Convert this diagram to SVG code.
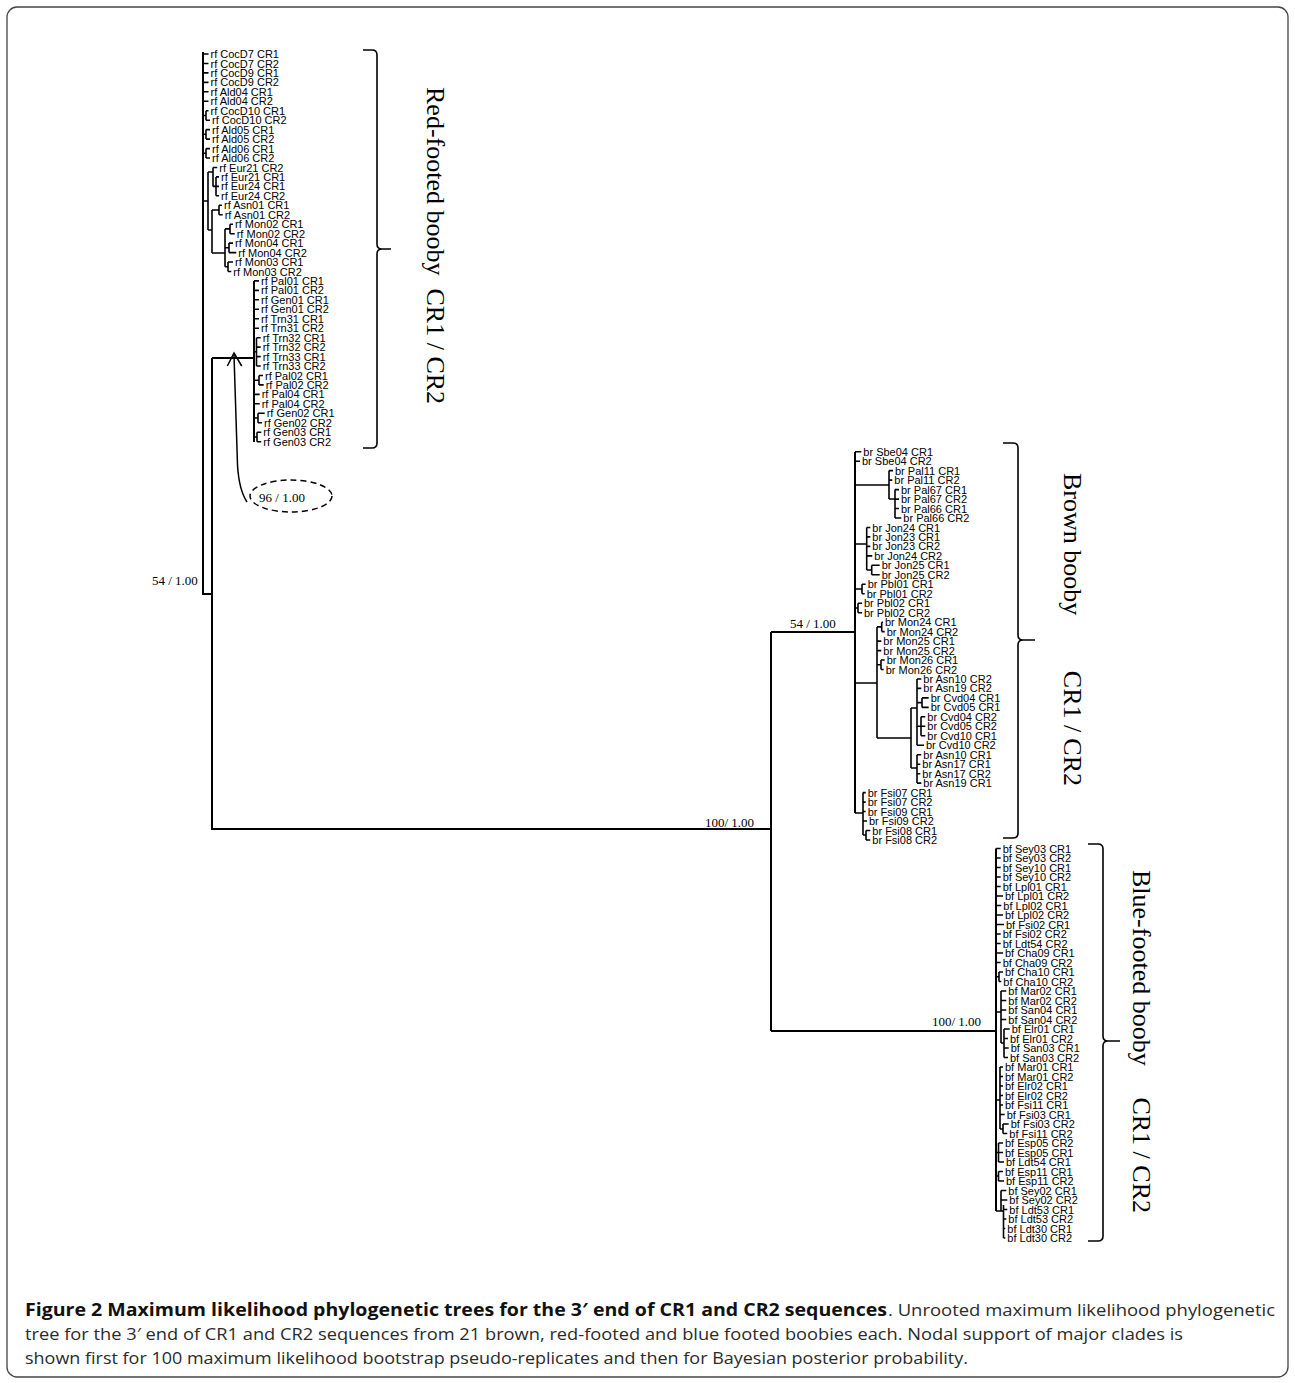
<svg xmlns="http://www.w3.org/2000/svg" width="1295" height="1383" viewBox="0 0 1295 1383">
<style>
.lf text{font-family:"Liberation Sans",Arial,sans-serif;font-size:11px;fill:#000}
.br{stroke:#000;stroke-width:2;fill:none}
.tk{stroke:#000;stroke-width:1.6;fill:none}
.brace{stroke:#000;stroke-width:1.6;fill:none}
.sup{font-family:"Liberation Serif","Times New Roman",serif;font-size:13px;fill:#000}
.clade{font-family:"Liberation Serif","Times New Roman",serif;font-size:26px;fill:#000}
.cap{font-family:"Open Sans","Noto Sans",sans-serif;font-size:17px;fill:#2a2a2a}
.capb{font-family:"Open Sans","Noto Sans",sans-serif;font-size:17px;font-weight:bold;fill:#111}
</style>
<rect width="1295" height="1383" fill="#fff"/>
<rect x="7" y="7" width="1281" height="1370" rx="10" fill="none" stroke="#444" stroke-width="1.3"/>

<g id="connectors">
<path class="br" d="M203,52 V594 H212 M212,358 V829 H771 M212,358 H254 M254,281 V442 M771,632 V1031 M771,632 H855 M855,452 V813 M771,1031 H996 M996,848.5 V1211"/>
<path class="tk" d="M203,54 H208.5 M203,63.5 H208.5 M203,72.9 H208.5 M203,82.4 H208.5 M203,91.8 H208.5 M203,101.3 H208.5
M203,115.5 H206 M206,110.7 V120.2 M206,110.7 H208.5 M206,120.2 H210
M203,134.3 H206 M206,129.6 V139.1 M206,129.6 H210 M206,139.1 H210
M203,153.3 H206 M206,148.6 V158 M206,148.6 H210 M206,158 H210
M203,201 H208 M208,172 V230
M208,172 H213 M213,167.5 V186.4 M213,167.5 H217.3 M213,186.4 H216 M216,176.9 V195.8 M216,176.9 H219 M216,186.4 H219 M216,195.8 H219
M208,230 H212 M212,210 V253
M212,210 H219 M219,205.3 V214.8 M219,205.3 H222 M219,214.8 H222.7
M212,253 H225 M225,228.9 V266.8
M225,228.9 H230 M230,224.2 V233.7 M230,224.2 H233 M230,233.7 H234.7
M225,247.8 H229 M229,243.1 V252.6 M229,243.1 H233 M229,252.6 H236.3
M225,266.8 H228 M228,262 V271.5 M228,262 H233 M228,271.5 H231.3
M254,280.9 H259 M254,290.4 H259 M254,299.8 H259 M254,309.3 H259 M254,318.7 H259 M254,328.2 H259
M254,351.8 H256.5 M256.5,337.7 V366 M256.5,337.7 H260.7 M256.5,347.1 H260.7 M256.5,356.6 H260.7 M256.5,366 H260.7
M254,380.2 H259 M259,375.5 V384.9 M259,375.5 H263 M259,384.9 H263.7
M254,394.4 H259.7 M254,403.8 H259.7
M254,418 H258 M258,413.3 V422.8 M258,413.3 H264.7 M258,422.8 H262
M254,437 H257 M257,432.2 V441.7 M257,432.2 H261.3 M257,441.7 H261.3"/>
<path class="tk" d="M855,451.7 H861.3 M855,461.2 H860
M855,485 H889 M889,470.6 V499 M889,470.6 H893 M889,480.1 H892.3 M889,499 H895 M895,489.6 V518 M895,489.6 H899 M895,499.1 H899 M895,508.5 H899 M895,518 H901.3
M855,544 H866.7 M866.7,527.5 V570 M866.7,527.5 H870.3 M866.7,536.9 H870.3 M866.7,546.4 H870.3 M866.7,555.9 H872.3 M866.7,570 H871.7 M871.7,565.3 V574.8 M871.7,565.3 H879.7 M871.7,574.8 H879.7
M855,589 H862 M862,584.3 V593.7 M862,584.3 H865.7 M862,593.7 H864.7
M855,608 H858 M858,603.2 V612.7 M858,603.2 H862 M858,612.7 H862
M855,683 H877 M877,626.9 V738
M877,626.9 H881.7 M881.7,622.2 V631.6 M881.7,622.2 H883 M881.7,631.6 H884.7
M877,641.1 H881.3 M877,650.6 H881.3
M877,664.8 H881 M881,660 V669.5 M881,660 H884.7 M881,669.5 H883.7
M877,738 H911 M911,708 V768
M911,708 H917 M917,679 V745.3 M917,679 H921.3 M917,688.4 H921.3
M917,702.6 H922 M922,697.9 V707.4 M922,697.9 H928.7 M922,707.4 H928.7
M917,726.3 H921 M921,716.8 V735.8 M921,716.8 H925.3 M921,726.3 H925.3 M921,735.8 H925.3
M917,745.3 H924
M911,768 H917 M917,754.7 V783.1 M917,754.7 H921.3 M917,764.2 H920.3 M917,773.7 H920.3 M917,783.1 H921.3
M855,813 H863 M863,792.6 V835 M863,792.6 H865.7 M863,802.1 H865.7 M863,811.5 H865.7 M863,821 H867 M863,835 H866 M866,830.5 V840 M866,830.5 H870.3 M866,840 H870.3"/>
<path class="tk" d="M996,848.5 H1000.7 M996,858 H1000.7 M996,867.5 H1000.7 M996,877 H1000.7 M996,886.5 H1000.7 M996,896 H1003 M996,905.5 H1001.3 M996,915 H1003 M996,924.5 H1004 M996,934 H1000.7 M996,943.5 H1000.7 M996,953 H1003 M996,962.5 H1000.7
M996,976.7 H999 M999,972 V981.5 M999,972 H1003 M999,981.5 H1001.3
M996,1012 H1001 M1001,991 V1043 M1001,991 H1006.3 M1001,1000.5 H1006.3 M1001,1010 H1006.3 M1001,1019.5 H1006.3 M1001,1043 H1004 M1004,1029 V1057.5 M1004,1029 H1009.7 M1004,1038.5 H1008 M1004,1048 H1008.7 M1004,1057.5 H1008
M996,1100 H1000 M1000,1067 V1129 M1000,1067 H1003 M1000,1076.5 H1003 M1000,1086 H1003 M1000,1095.5 H1003 M1000,1105 H1003 M1000,1114.5 H1004.7 M1000,1129 H1003 M1003,1124 V1133.5 M1003,1124 H1008.7 M1003,1133.5 H1007.3
M996,1152.5 H998.5 M998.5,1143 V1162 M998.5,1143 H1003 M998.5,1152.5 H1003 M998.5,1162 H1004
M996,1176 H998.5 M998.5,1171.5 V1181 M998.5,1171.5 H1003 M998.5,1181 H1004
M996,1211 H1003.5 M1001,1190.5 V1211 M1001,1190.5 H1006.3 M1001,1200 H1007.3 M1003.5,1205 V1238 M1003.5,1209.5 H1007.3 M1003.5,1219 H1006.3 M1003.5,1228.5 H1005.3 M1003.5,1238 H1005.3"/>
</g>

<g id="support-labels">
<text class="sup" x="152" y="585">54 / 1.00</text>
<text class="sup" x="790" y="627.5">54 / 1.00</text>
<text class="sup" x="705" y="826.5">100/ 1.00</text>
<text class="sup" x="932" y="1025.5">100/ 1.00</text>
</g>

<g id="annotation">
<ellipse cx="291" cy="496" rx="41" ry="16" fill="none" stroke="#000" stroke-width="1.5" stroke-dasharray="6 4"/>
<text class="sup" x="282" y="501.5" text-anchor="middle">96 / 1.00</text>
<path d="M247,502 Q239,490 237.5,465 L234,355" fill="none" stroke="#000" stroke-width="1.5"/>
<path d="M227.3,366 L234,353 L241.7,366" fill="none" stroke="#000" stroke-width="1.5"/>
</g>

<g id="braces">
<path class="brace" d="M363,50 H372 Q377,50 377,55 V244 Q377,249 382,249 H391 M382,249 Q377,249 377,254 V443 Q377,448 372,448 H363"/>
<path class="brace" d="M1003,443 H1013 Q1018,443 1018,448 V635 Q1018,640 1023,640 H1035 M1023,640 Q1018,640 1018,645 V833 Q1018,838 1013,838 H1003"/>
<path class="brace" d="M1088,844 H1098 Q1103,844 1103,849 V1036 Q1103,1041 1108,1041 H1120 M1108,1041 Q1103,1041 1103,1046 V1236 Q1103,1241 1098,1241 H1088"/>
</g>

<g id="clade-red-footed">
<text class="clade" transform="translate(427,87) rotate(90)"><tspan x="0">Red-footed booby</tspan><tspan x="201.5">CR1</tspan><tspan x="255.7">/</tspan><tspan x="269.4">CR2</tspan></text>
</g>
<g id="clade-brown">
<text class="clade" transform="translate(1064,473) rotate(90)"><tspan x="0">Brown booby</tspan><tspan x="197.8">CR1</tspan><tspan x="252">/</tspan><tspan x="265.3">CR2</tspan></text>
</g>
<g id="clade-blue-footed">
<text class="clade" transform="translate(1133,870) rotate(90)"><tspan x="0">Blue-footed booby</tspan><tspan x="227.4">CR1</tspan><tspan x="281.6">/</tspan><tspan x="295.3">CR2</tspan></text>
</g>

<g id="leaves-rf" class="lf">
<g id="rf-CocD7-CR1"><text x="210.5" y="58">rf CocD7 CR1</text></g>
<g id="rf-CocD7-CR2"><text x="210.5" y="67.5">rf CocD7 CR2</text></g>
<g id="rf-CocD9-CR1"><text x="210.5" y="76.9">rf CocD9 CR1</text></g>
<g id="rf-CocD9-CR2"><text x="210.5" y="86.4">rf CocD9 CR2</text></g>
<g id="rf-Ald04-CR1"><text x="210.5" y="95.8">rf Ald04 CR1</text></g>
<g id="rf-Ald04-CR2"><text x="210.5" y="105.3">rf Ald04 CR2</text></g>
<g id="rf-CocD10-CR1"><text x="210.5" y="114.7">rf CocD10 CR1</text></g>
<g id="rf-CocD10-CR2"><text x="212" y="124.2">rf CocD10 CR2</text></g>
<g id="rf-Ald05-CR1"><text x="212" y="133.6">rf Ald05 CR1</text></g>
<g id="rf-Ald05-CR2"><text x="212" y="143.1">rf Ald05 CR2</text></g>
<g id="rf-Ald06-CR1"><text x="212" y="152.6">rf Ald06 CR1</text></g>
<g id="rf-Ald06-CR2"><text x="212" y="162">rf Ald06 CR2</text></g>
<g id="rf-Eur21-CR2"><text x="219.3" y="171.5">rf Eur21 CR2</text></g>
<g id="rf-Eur21-CR1"><text x="221" y="180.9">rf Eur21 CR1</text></g>
<g id="rf-Eur24-CR1"><text x="221" y="190.4">rf Eur24 CR1</text></g>
<g id="rf-Eur24-CR2"><text x="221" y="199.8">rf Eur24 CR2</text></g>
<g id="rf-Asn01-CR1"><text x="224" y="209.3">rf Asn01 CR1</text></g>
<g id="rf-Asn01-CR2"><text x="224.7" y="218.8">rf Asn01 CR2</text></g>
<g id="rf-Mon02-CR1"><text x="235" y="228.2">rf Mon02 CR1</text></g>
<g id="rf-Mon02-CR2"><text x="236.7" y="237.7">rf Mon02 CR2</text></g>
<g id="rf-Mon04-CR1"><text x="235" y="247.1">rf Mon04 CR1</text></g>
<g id="rf-Mon04-CR2"><text x="238.3" y="256.6">rf Mon04 CR2</text></g>
<g id="rf-Mon03-CR1"><text x="235" y="266">rf Mon03 CR1</text></g>
<g id="rf-Mon03-CR2"><text x="233.3" y="275.5">rf Mon03 CR2</text></g>
<g id="rf-Pal01-CR1"><text x="261" y="284.9">rf Pal01 CR1</text></g>
<g id="rf-Pal01-CR2"><text x="261" y="294.4">rf Pal01 CR2</text></g>
<g id="rf-Gen01-CR1"><text x="261" y="303.8">rf Gen01 CR1</text></g>
<g id="rf-Gen01-CR2"><text x="261" y="313.3">rf Gen01 CR2</text></g>
<g id="rf-Trn31-CR1"><text x="261" y="322.7">rf Trn31 CR1</text></g>
<g id="rf-Trn31-CR2"><text x="261" y="332.2">rf Trn31 CR2</text></g>
<g id="rf-Trn32-CR1"><text x="262.7" y="341.7">rf Trn32 CR1</text></g>
<g id="rf-Trn32-CR2"><text x="262.7" y="351.1">rf Trn32 CR2</text></g>
<g id="rf-Trn33-CR1"><text x="262.7" y="360.6">rf Trn33 CR1</text></g>
<g id="rf-Trn33-CR2"><text x="262.7" y="370">rf Trn33 CR2</text></g>
<g id="rf-Pal02-CR1"><text x="265" y="379.5">rf Pal02 CR1</text></g>
<g id="rf-Pal02-CR2"><text x="265.7" y="388.9">rf Pal02 CR2</text></g>
<g id="rf-Pal04-CR1"><text x="261.7" y="398.4">rf Pal04 CR1</text></g>
<g id="rf-Pal04-CR2"><text x="261.7" y="407.8">rf Pal04 CR2</text></g>
<g id="rf-Gen02-CR1"><text x="266.7" y="417.3">rf Gen02 CR1</text></g>
<g id="rf-Gen02-CR2"><text x="264" y="426.8">rf Gen02 CR2</text></g>
<g id="rf-Gen03-CR1"><text x="263.3" y="436.2">rf Gen03 CR1</text></g>
<g id="rf-Gen03-CR2"><text x="263.3" y="445.7">rf Gen03 CR2</text></g>
</g>

<g id="leaves-br" class="lf">
<g id="br-Sbe04-CR1"><text x="863.3" y="455.7">br Sbe04 CR1</text></g>
<g id="br-Sbe04-CR2"><text x="862" y="465.2">br Sbe04 CR2</text></g>
<g id="br-Pal11-CR1"><text x="895" y="474.6">br Pal11 CR1</text></g>
<g id="br-Pal11-CR2"><text x="894.3" y="484.1">br Pal11 CR2</text></g>
<g id="br-Pal67-CR1"><text x="901" y="493.6">br Pal67 CR1</text></g>
<g id="br-Pal67-CR2"><text x="901" y="503.1">br Pal67 CR2</text></g>
<g id="br-Pal66-CR1"><text x="901" y="512.5">br Pal66 CR1</text></g>
<g id="br-Pal66-CR2"><text x="903.3" y="522">br Pal66 CR2</text></g>
<g id="br-Jon24-CR1"><text x="872.3" y="531.5">br Jon24 CR1</text></g>
<g id="br-Jon23-CR1"><text x="872.3" y="540.9">br Jon23 CR1</text></g>
<g id="br-Jon23-CR2"><text x="872.3" y="550.4">br Jon23 CR2</text></g>
<g id="br-Jon24-CR2"><text x="874.3" y="559.9">br Jon24 CR2</text></g>
<g id="br-Jon25-CR1"><text x="881.7" y="569.3">br Jon25 CR1</text></g>
<g id="br-Jon25-CR2"><text x="881.7" y="578.8">br Jon25 CR2</text></g>
<g id="br-Pbl01-CR1"><text x="867.7" y="588.3">br Pbl01 CR1</text></g>
<g id="br-Pbl01-CR2"><text x="866.7" y="597.7">br Pbl01 CR2</text></g>
<g id="br-Pbl02-CR1"><text x="864" y="607.2">br Pbl02 CR1</text></g>
<g id="br-Pbl02-CR2"><text x="864" y="616.7">br Pbl02 CR2</text></g>
<g id="br-Mon24-CR1"><text x="885" y="626.2">br Mon24 CR1</text></g>
<g id="br-Mon24-CR2"><text x="886.7" y="635.6">br Mon24 CR2</text></g>
<g id="br-Mon25-CR1"><text x="883.3" y="645.1">br Mon25 CR1</text></g>
<g id="br-Mon25-CR2"><text x="883.3" y="654.6">br Mon25 CR2</text></g>
<g id="br-Mon26-CR1"><text x="886.7" y="664">br Mon26 CR1</text></g>
<g id="br-Mon26-CR2"><text x="885.7" y="673.5">br Mon26 CR2</text></g>
<g id="br-Asn10-CR2"><text x="923.3" y="683">br Asn10 CR2</text></g>
<g id="br-Asn19-CR2"><text x="923.3" y="692.4">br Asn19 CR2</text></g>
<g id="br-Cvd04-CR1"><text x="930.7" y="701.9">br Cvd04 CR1</text></g>
<g id="br-Cvd05-CR1"><text x="930.7" y="711.4">br Cvd05 CR1</text></g>
<g id="br-Cvd04-CR2"><text x="927.3" y="720.8">br Cvd04 CR2</text></g>
<g id="br-Cvd05-CR2"><text x="927.3" y="730.3">br Cvd05 CR2</text></g>
<g id="br-Cvd10-CR1"><text x="927.3" y="739.8">br Cvd10 CR1</text></g>
<g id="br-Cvd10-CR2"><text x="926" y="749.3">br Cvd10 CR2</text></g>
<g id="br-Asn10-CR1"><text x="923.3" y="758.7">br Asn10 CR1</text></g>
<g id="br-Asn17-CR1"><text x="922.3" y="768.2">br Asn17 CR1</text></g>
<g id="br-Asn17-CR2"><text x="922.3" y="777.7">br Asn17 CR2</text></g>
<g id="br-Asn19-CR1"><text x="923.3" y="787.1">br Asn19 CR1</text></g>
<g id="br-Fsi07-CR1"><text x="867.7" y="796.6">br Fsi07 CR1</text></g>
<g id="br-Fsi07-CR2"><text x="867.7" y="806.1">br Fsi07 CR2</text></g>
<g id="br-Fsi09-CR1"><text x="867.7" y="815.5">br Fsi09 CR1</text></g>
<g id="br-Fsi09-CR2"><text x="869" y="825">br Fsi09 CR2</text></g>
<g id="br-Fsi08-CR1"><text x="872.3" y="834.5">br Fsi08 CR1</text></g>
<g id="br-Fsi08-CR2"><text x="872.3" y="844">br Fsi08 CR2</text></g>
</g>

<g id="leaves-bf" class="lf">
<g id="bf-Sey03-CR1"><text x="1002.7" y="852.5">bf Sey03 CR1</text></g>
<g id="bf-Sey03-CR2"><text x="1002.7" y="862">bf Sey03 CR2</text></g>
<g id="bf-Sey10-CR1"><text x="1002.7" y="871.5">bf Sey10 CR1</text></g>
<g id="bf-Sey10-CR2"><text x="1002.7" y="881">bf Sey10 CR2</text></g>
<g id="bf-Lpl01-CR1"><text x="1002.7" y="890.5">bf Lpl01 CR1</text></g>
<g id="bf-Lpl01-CR2"><text x="1005" y="900">bf Lpl01 CR2</text></g>
<g id="bf-Lpl02-CR1"><text x="1003.3" y="909.5">bf Lpl02 CR1</text></g>
<g id="bf-Lpl02-CR2"><text x="1005" y="919">bf Lpl02 CR2</text></g>
<g id="bf-Fsi02-CR1"><text x="1006" y="928.5">bf Fsi02 CR1</text></g>
<g id="bf-Fsi02-CR2"><text x="1002.7" y="938">bf Fsi02 CR2</text></g>
<g id="bf-Ldt54-CR2"><text x="1002.7" y="947.5">bf Ldt54 CR2</text></g>
<g id="bf-Cha09-CR1"><text x="1005" y="957">bf Cha09 CR1</text></g>
<g id="bf-Cha09-CR2"><text x="1002.7" y="966.5">bf Cha09 CR2</text></g>
<g id="bf-Cha10-CR1"><text x="1005" y="976">bf Cha10 CR1</text></g>
<g id="bf-Cha10-CR2"><text x="1003.3" y="985.5">bf Cha10 CR2</text></g>
<g id="bf-Mar02-CR1"><text x="1008.3" y="995">bf Mar02 CR1</text></g>
<g id="bf-Mar02-CR2"><text x="1008.3" y="1004.5">bf Mar02 CR2</text></g>
<g id="bf-San04-CR1"><text x="1008.3" y="1014">bf San04 CR1</text></g>
<g id="bf-San04-CR2"><text x="1008.3" y="1023.5">bf San04 CR2</text></g>
<g id="bf-Elr01-CR1"><text x="1011.7" y="1033">bf Elr01 CR1</text></g>
<g id="bf-Elr01-CR2"><text x="1010" y="1042.5">bf Elr01 CR2</text></g>
<g id="bf-San03-CR1"><text x="1010.7" y="1052">bf San03 CR1</text></g>
<g id="bf-San03-CR2"><text x="1010" y="1061.5">bf San03 CR2</text></g>
<g id="bf-Mar01-CR1"><text x="1005" y="1071">bf Mar01 CR1</text></g>
<g id="bf-Mar01-CR2"><text x="1005" y="1080.5">bf Mar01 CR2</text></g>
<g id="bf-Elr02-CR1"><text x="1005" y="1090">bf Elr02 CR1</text></g>
<g id="bf-Elr02-CR2"><text x="1005" y="1099.5">bf Elr02 CR2</text></g>
<g id="bf-Fsi11-CR1"><text x="1005" y="1109">bf Fsi11 CR1</text></g>
<g id="bf-Fsi03-CR1"><text x="1006.7" y="1118.5">bf Fsi03 CR1</text></g>
<g id="bf-Fsi03-CR2"><text x="1010.7" y="1128">bf Fsi03 CR2</text></g>
<g id="bf-Fsi11-CR2"><text x="1009.3" y="1137.5">bf Fsi11 CR2</text></g>
<g id="bf-Esp05-CR2"><text x="1005" y="1147">bf Esp05 CR2</text></g>
<g id="bf-Esp05-CR1"><text x="1005" y="1156.5">bf Esp05 CR1</text></g>
<g id="bf-Ldt54-CR1"><text x="1006" y="1166">bf Ldt54 CR1</text></g>
<g id="bf-Esp11-CR1"><text x="1005" y="1175.5">bf Esp11 CR1</text></g>
<g id="bf-Esp11-CR2"><text x="1006" y="1185">bf Esp11 CR2</text></g>
<g id="bf-Sey02-CR1"><text x="1008.3" y="1194.5">bf Sey02 CR1</text></g>
<g id="bf-Sey02-CR2"><text x="1009.3" y="1204">bf Sey02 CR2</text></g>
<g id="bf-Ldt53-CR1"><text x="1009.3" y="1213.5">bf Ldt53 CR1</text></g>
<g id="bf-Ldt53-CR2"><text x="1008.3" y="1223">bf Ldt53 CR2</text></g>
<g id="bf-Ldt30-CR1"><text x="1007.3" y="1232.5">bf Ldt30 CR1</text></g>
<g id="bf-Ldt30-CR2"><text x="1007.3" y="1242">bf Ldt30 CR2</text></g>
</g>

<g id="caption">
<text class="capb" x="25" y="1316" textLength="862" lengthAdjust="spacingAndGlyphs">Figure 2 Maximum likelihood phylogenetic trees for the 3′ end of CR1 and CR2 sequences</text>
<text class="cap" x="888" y="1316" textLength="387" lengthAdjust="spacingAndGlyphs">. Unrooted maximum likelihood phylogenetic</text>
<text class="cap" x="25" y="1340" textLength="1158" lengthAdjust="spacingAndGlyphs">tree for the 3′ end of CR1 and CR2 sequences from 21 brown, red-footed and blue footed boobies each. Nodal support of major clades is</text>
<text class="cap" x="25" y="1364" textLength="943" lengthAdjust="spacingAndGlyphs">shown first for 100 maximum likelihood bootstrap pseudo-replicates and then for Bayesian posterior probability.</text>
</g>
</svg>
